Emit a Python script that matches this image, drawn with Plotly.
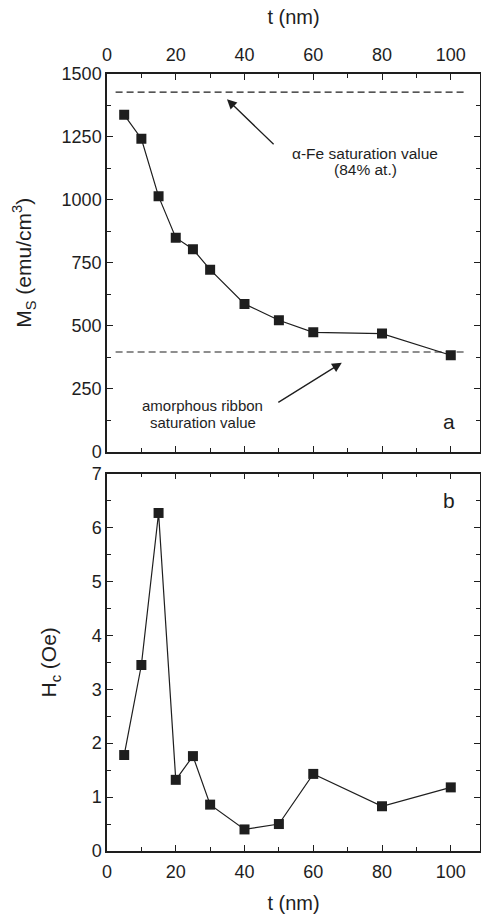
import plotly.graph_objects as go

t_nm = [5, 10, 15, 20, 25, 30, 40, 50, 60, 80, 100]
ms_values = [1338, 1243, 1014, 850, 804, 723, 587, 522, 474, 469, 383]
hc_values = [1.78, 3.45, 6.27, 1.32, 1.76, 0.86, 0.40, 0.50, 1.43, 0.83, 1.18]

ref_t = [2.5, 104]
fe_sat = [1428, 1428]
ribbon_sat = [396, 396]

x_ticks = [0, 20, 40, 60, 80, 100]
ms_ticks = [0, 250, 500, 750, 1000, 1250, 1500]
hc_ticks = [0, 1, 2, 3, 4, 5, 6, 7]

INK = "#1e1e1e"
FONT = "Liberation Sans, Arial, Helvetica, sans-serif"

fig = go.Figure()

marker = dict(symbol="square", size=10, color=INK)
line = dict(color=INK, width=1.2)
dash_line = dict(color=INK, width=1.2, dash="7px,4px")

fig.add_trace(go.Scatter(x=t_nm, y=ms_values, mode="lines+markers", marker=marker,
                         line=line, xaxis="x2", yaxis="y2", showlegend=False))
fig.add_trace(go.Scatter(x=ref_t, y=fe_sat, mode="lines", line=dash_line,
                         xaxis="x2", yaxis="y2", showlegend=False))
fig.add_trace(go.Scatter(x=ref_t, y=ribbon_sat, mode="lines", line=dash_line,
                         xaxis="x2", yaxis="y2", showlegend=False))
fig.add_trace(go.Scatter(x=t_nm, y=hc_values, mode="lines+markers", marker=marker,
                         line=line, xaxis="x", yaxis="y", showlegend=False))

tickfont = dict(family=FONT, size=18, color=INK)
titlefont = dict(family=FONT, size=20, color=INK)
ytitlefont = dict(family=FONT, size=21, color=INK)

common_x = dict(range=[0, 108.5], tickvals=x_ticks, ticks="inside", ticklen=6,
                tickwidth=1.3, tickcolor=INK, showline=True, linecolor=INK,
                linewidth=1.5, mirror="ticks", showgrid=False, zeroline=False,
                tickfont=tickfont, ticklabelstandoff=4, automargin=False,
                minor=dict(dtick=10, ticks="inside", ticklen=4, tickcolor=INK, tickwidth=1.2))

common_y = dict(ticks="inside", ticklen=6, tickwidth=1.3, tickcolor=INK, showline=True,
                linecolor=INK, linewidth=1.5, mirror="ticks", showgrid=False,
                zeroline=False, tickfont=tickfont, automargin=False)

fig.update_layout(
    width=481, height=914,
    margin=dict(l=107, r=1, t=74, b=63, autoexpand=False),
    paper_bgcolor="white", plot_bgcolor="white",
    font=dict(family=FONT, color=INK),
    xaxis=dict(**common_x, anchor="y", domain=[0, 1],
               title=dict(text="t (nm)", font=titlefont, standoff=17)),
    xaxis2=dict(**common_x, anchor="y2", side="top", domain=[0, 1],
                title=dict(text="t (nm)", font=titlefont, standoff=15)),
    yaxis=dict(**common_y, domain=[0, 0.4857], range=[0, 7], tickvals=hc_ticks, anchor="x",
               minor=dict(dtick=0.5, ticks="inside", ticklen=4, tickcolor=INK, tickwidth=1.2),
               title=dict(text="H<sub>c</sub> (Oe)", font=ytitlefont, standoff=29)),
    yaxis2=dict(**common_y, domain=[0.5139, 1], range=[0, 1500], tickvals=ms_ticks, anchor="x2",
                minor=dict(dtick=125, ticks="inside", ticklen=4, tickcolor=INK, tickwidth=1.2),
                title=dict(text="M<sub>S</sub> (emu/cm<sup>3</sup>)", font=ytitlefont, standoff=24)),
)

ann_font = dict(family=FONT, size=15, color=INK)

# arrows
fig.add_annotation(x=34.9, y=1400, ax=48.9, ay=1215, xref="x2", yref="y2",
                   axref="x2", ayref="y2", text="", showarrow=True,
                   arrowhead=2, arrowsize=1.5, arrowwidth=1.3, arrowcolor=INK)
fig.add_annotation(x=68.3, y=353, ax=49.4, ay=192, xref="x2", yref="y2",
                   axref="x2", ayref="y2", text="", showarrow=True,
                   arrowhead=2, arrowsize=1.5, arrowwidth=1.3, arrowcolor=INK)

fig.add_annotation(x=75.1, y=1186, xref="x2", yref="y2", text="α-Fe saturation value",
                   showarrow=False, font=dict(family=FONT, size=15.5, color=INK), yanchor="middle")
fig.add_annotation(x=75.1, y=1119, xref="x2", yref="y2", text="(84% at.)",
                   showarrow=False, font=dict(family=FONT, size=15.5, color=INK), yanchor="middle")
fig.add_annotation(x=27.8, y=182, xref="x2", yref="y2", text="amorphous ribbon",
                   showarrow=False, font=ann_font, yanchor="middle")
fig.add_annotation(x=27.8, y=114, xref="x2", yref="y2", text="saturation value",
                   showarrow=False, font=ann_font, yanchor="middle")

fig.add_annotation(x=99.5, y=119, xref="x2", yref="y2", text="a", showarrow=False,
                   font=dict(family=FONT, size=21, color=INK))
fig.add_annotation(x=99.5, y=6.5, xref="x", yref="y", text="b", showarrow=False,
                   font=dict(family=FONT, size=21, color=INK))

fig.write_html("out.html",
               post_script="document.documentElement.style.overflow='hidden';"
                           "document.body.style.margin='0';"
                           "document.body.style.overflow='hidden';")
